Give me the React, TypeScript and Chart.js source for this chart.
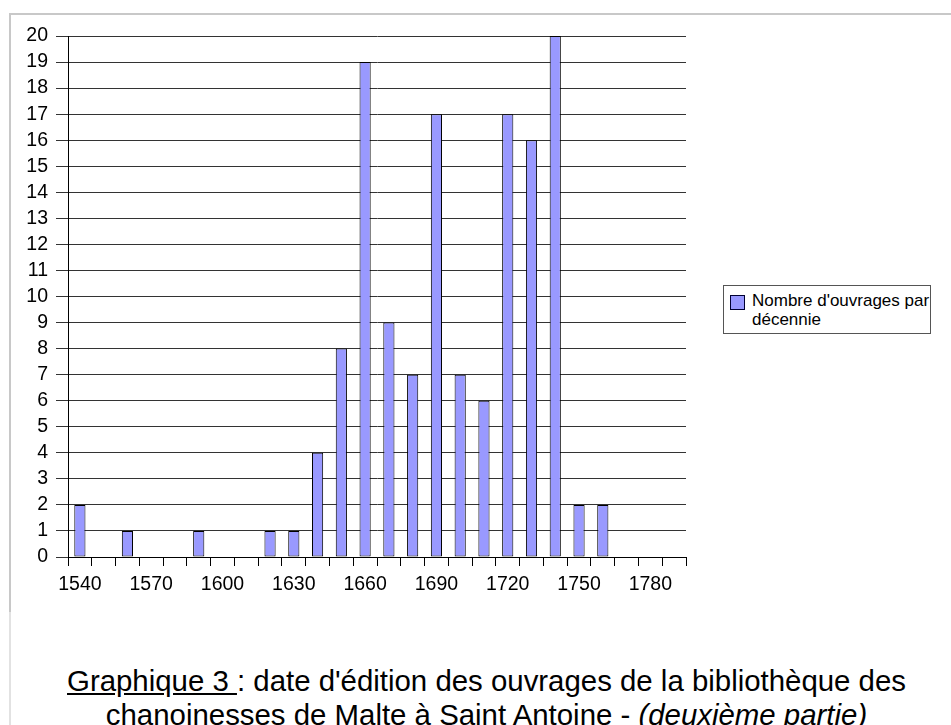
import React, { useEffect, useRef } from "react";
import { Chart, registerables } from "chart.js";

Chart.register(...registerables);

const decades: string[] = [
  "1540", "1550", "1560", "1570", "1580", "1590", "1600", "1610", "1620",
  "1630", "1640", "1650", "1660", "1670", "1680", "1690", "1700", "1710",
  "1720", "1730", "1740", "1750", "1760", "1770", "1780", "1790",
];
const bookCounts: number[] = [
  2, 0, 1, 0, 0, 1, 0, 0, 1, 1, 4, 8, 19, 9, 7, 17, 7, 6, 17, 16, 20, 2, 2, 0, 0, 0,
];
const yMin = 0;
const yMax = 20;
const yStep = 1;
const labelEvery = 3;
const seriesName = "Nombre d'ouvrages par décennie";
const legendLine1 = "Nombre d'ouvrages par";
const legendLine2 = "décennie";
const captionUnderlined = "Graphique 3 ";
const captionRest = ": date d'édition des ouvrages de la bibliothèque des";
const caption2Plain = "chanoinesses de Malte à Saint Antoine - ";
const caption2Italic = "(deuxième partie)";

const FONT = "'Liberation Sans', Arial, sans-serif";
const BAR_COLOR = "#9999ff";

export default function App() {
  const canvasRef = useRef<HTMLCanvasElement | null>(null);

  useEffect(() => {
    if (!canvasRef.current) return;
    const chart = new Chart(canvasRef.current, {
      type: "bar",
      data: {
        labels: decades,
        datasets: [
          {
            label: seriesName,
            data: bookCounts,
            backgroundColor: BAR_COLOR,
            borderColor: "#000000",
            borderWidth: 1,
            borderSkipped: false,
            barPercentage: 0.47,
            categoryPercentage: 1,
          },
        ],
      },
      options: {
        animation: false,
        responsive: false,
        devicePixelRatio: 1,
        layout: { padding: { left: 0, right: 14, top: 36, bottom: 0 } },
        plugins: {
          legend: { display: false },
          tooltip: { enabled: false },
        },
        scales: {
          x: {
            type: "category",
            offset: true,
            grid: {
              display: true,
              drawOnChartArea: false,
              drawTicks: true,
              tickLength: 9,
              offset: true,
              color: "#000000",
              lineWidth: 1,
            },
            border: { display: true, color: "#000000", width: 1 },
            ticks: {
              autoSkip: false,
              maxRotation: 0,
              minRotation: 0,
              color: "#000000",
              padding: 7,
              font: { family: FONT, size: 19.5 },
              callback: (_v: any, i: number) =>
                i % labelEvery === 0 ? decades[i] : "",
            },
            afterFit: (s: any) => {
              s.height = 53;
            },
          },
          y: {
            min: yMin,
            max: yMax,
            grid: {
              color: "#333333",
              lineWidth: 1,
              drawTicks: true,
              tickLength: 12,
            },
            border: { display: true, color: "#000000", width: 1 },
            ticks: {
              stepSize: yStep,
              autoSkip: false,
              color: "#000000",
              padding: 8,
              font: { family: FONT, size: 19.5 },
            },
            afterFit: (s: any) => {
              s.width = 68;
            },
          },
        },
      },
    });
    return () => chart.destroy();
  }, []);

  return (
    <div
      style={{
        position: "absolute",
        left: 0,
        top: 0,
        width: 951,
        height: 725,
        overflow: "hidden",
        background: "#ffffff",
        fontFamily: FONT,
      }}
    >
      <div
        style={{
          position: "absolute",
          left: 9,
          top: 13,
          width: 960,
          height: 2,
          background: "#c8c8c8",
        }}
      />
      <div
        style={{
          position: "absolute",
          left: 9,
          top: 13,
          width: 2,
          height: 599,
          background: "#c8c8c8",
        }}
      />
      <div
        style={{
          position: "absolute",
          left: 9,
          top: 612,
          width: 2,
          height: 120,
          background: "#e2e2e2",
        }}
      />
      <canvas
        ref={canvasRef}
        width={700}
        height={610}
        style={{ position: "absolute", left: 0, top: 0, width: 700, height: 610 }}
      />
      <div
        style={{
          position: "absolute",
          left: 723,
          top: 285,
          width: 208,
          height: 49,
          border: "1px solid #555555",
          boxSizing: "border-box",
        }}
      >
        <div
          style={{
            position: "absolute",
            left: 6,
            top: 9,
            width: 13,
            height: 13,
            background: BAR_COLOR,
            border: "1px solid #000033",
          }}
        />
        <div
          style={{
            position: "absolute",
            left: 28,
            top: 5,
            fontSize: 17,
            lineHeight: "19px",
            color: "#000",
            whiteSpace: "nowrap",
          }}
        >
          <div>{legendLine1}</div>
          <div>{legendLine2}</div>
        </div>
      </div>
      <div
        style={{
          position: "absolute",
          left: 0,
          width: 973,
          top: 664,
          textAlign: "center",
          fontSize: 29.4,
          lineHeight: "34px",
          color: "#000",
          whiteSpace: "nowrap",
        }}
      >
        <div>
          <span style={{ textDecoration: "underline" }}>{captionUnderlined}</span>
          {captionRest}
        </div>
        <div>
          {caption2Plain}
          <i>{caption2Italic}</i>
        </div>
      </div>
    </div>
  );
}
